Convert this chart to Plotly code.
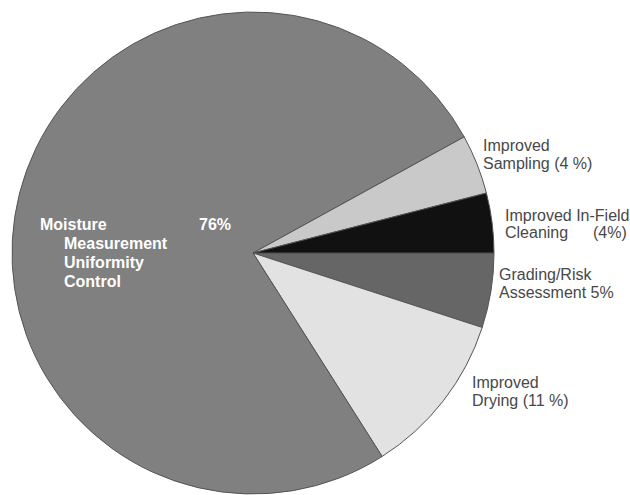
import plotly.graph_objects as go

# Share of improvement potential by category (percent)
categories = [
    "Grading/Risk Assessment",
    "Improved Drying",
    "Moisture Measurement Uniformity Control",
    "Improved Sampling",
    "Improved In-Field Cleaning",
]
values = [5, 11, 76, 4, 4]
slice_colors = ["#666666", "#e2e2e2", "#808080", "#c9c9c9", "#111111"]

W, H = 630, 495
fig = go.Figure()

fig.add_trace(go.Pie(
    labels=categories,
    values=values,
    sort=False,
    direction="clockwise",
    rotation=90,
    textinfo="none",
    hoverinfo="label+percent",
    marker=dict(colors=slice_colors, line=dict(color="#555555", width=1)),
    domain=dict(x=[12 / W, 494 / W], y=[1 / H, 483 / H]),
    showlegend=False,
))

v = dict(zip(categories, values))


def px_x(x):
    return x / W


def px_y(y):
    return 1 - y / H


# (text, left x px, centre y px, colour, bold, anchor)
label_lines = [
    ("Moisture", 38, 224, "white", True, "left"),
    (f"{v['Moisture Measurement Uniformity Control']}%", 197, 224, "white", True, "left"),
    ("Measurement", 62, 243, "white", True, "left"),
    ("Uniformity", 62, 262, "white", True, "left"),
    ("Control", 62, 281, "white", True, "left"),
    ("Improved", 481, 145, "#484848", False, "left"),
    (f"Sampling ({v['Improved Sampling']} %)", 481, 163, "#484848", False, "left"),
    ("Improved In-Field", 503, 215, "#484848", False, "left"),
    ("Cleaning", 503, 233, "#484848", False, "left"),
    (f"({v['Improved In-Field Cleaning']}%)", 629, 233, "#484848", False, "right"),
    ("Grading/Risk", 497, 274, "#484848", False, "left"),
    (f"Assessment {v['Grading/Risk Assessment']}%", 497, 292, "#484848", False, "left"),
    ("Improved", 470, 382, "#484848", False, "left"),
    (f"Drying ({v['Improved Drying']} %)", 470, 400, "#484848", False, "left"),
]

for text, x, y, color, bold, anchor in label_lines:
    fig.add_annotation(
        x=px_x(x), y=px_y(y), xref="paper", yref="paper",
        text=f"<b>{text}</b>" if bold else text,
        showarrow=False, xanchor=anchor, yanchor="middle",
        font=dict(family="Liberation Sans, Arial, sans-serif", size=16, color=color),
    )

fig.update_layout(
    width=W, height=H,
    margin=dict(l=0, r=0, t=0, b=0),
    paper_bgcolor="white",
    plot_bgcolor="white",
)

fig.write_html("out.html")
